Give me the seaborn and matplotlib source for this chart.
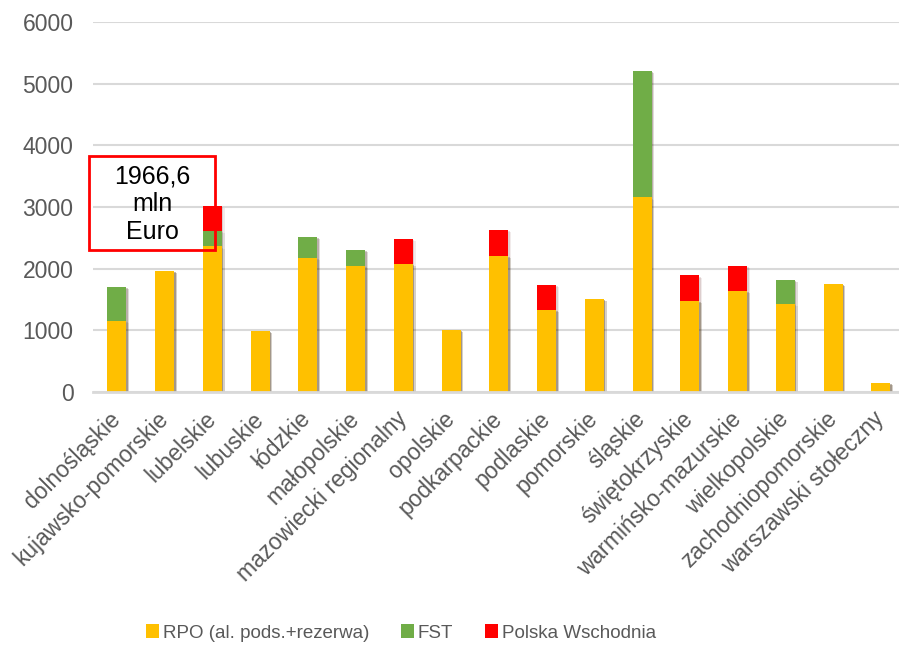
import matplotlib
matplotlib.use('Agg')
import matplotlib.pyplot as plt
import matplotlib.patheffects as pe
from matplotlib.patches import Rectangle, Patch
import pandas as pd
import seaborn as sns

regions = ['dolnośląskie', 'kujawsko-pomorskie', 'lubelskie', 'lubuskie',
           'łódzkie', 'małopolskie', 'mazowiecki regionalny', 'opolskie',
           'podkarpackie', 'podlaskie', 'pomorskie', 'śląskie',
           'świętokrzyskie', 'warmińsko-mazurskie', 'wielkopolskie',
           'zachodniopomorskie', 'warszawski stołeczny']
rpo = [1150, 1960, 2360, 985, 2175, 2050, 2075, 1010, 2205, 1325, 1508,
       3155, 1470, 1640, 1425, 1750, 150]
fst = [555, 0, 245, 0, 340, 255, 0, 0, 0, 0, 0, 2055, 0, 0, 385, 0, 0]
pw = [0, 0, 415, 0, 0, 0, 410, 0, 420, 410, 0, 0, 420, 410, 0, 0, 0]

series_names = ['RPO (al. pods.+rezerwa)', 'FST', 'Polska Wschodnia']
colors = ['#FFC000', '#70AD47', '#FF0000']
gray = '#595959'


def main():
    sns.set_style('white')
    plt.rcParams['font.family'] = ['Liberation Sans', 'DejaVu Sans']

    df = pd.DataFrame({'region': regions, 'rpo': rpo, 'fst': fst, 'pw': pw})
    df['rpo_fst'] = df['rpo'] + df['fst']
    df['total'] = df['rpo_fst'] + df['pw']

    fig = plt.figure(figsize=(8.99, 6.47), dpi=100)
    ax = fig.add_axes([93 / 899, 255 / 647, 806 / 899, 370 / 647])

    # soft shadow round the bars
    shadow = [pe.SimplePatchShadow(offset=(2, -1.5), alpha=0.08),
              pe.SimplePatchShadow(offset=(1, -0.8), alpha=0.12),
              pe.Normal()]
    # layered cumulative bars give the stacked look
    for col, color in zip(['total', 'rpo_fst', 'rpo'], colors[::-1]):
        sns.barplot(data=df, x='region', y=col, color=color, width=0.4,
                    saturation=1, ax=ax)
    for bar in ax.patches:
        bar.set_path_effects(shadow)
        bar.set_linewidth(0)

    ax.set_xlim(-0.5, 16.38)
    ax.set_ylim(0, 6000)
    ax.set_yticks(range(0, 6001, 1000))
    ax.yaxis.grid(True, color='#d9d9d9', linewidth=1.5)
    ax.set_axisbelow(True)
    for side in ['top', 'right', 'left']:
        ax.spines[side].set_visible(False)
    ax.spines['bottom'].set_color('#d9d9d9')
    ax.spines['bottom'].set_linewidth(2)
    ax.set_xlabel('')
    ax.set_ylabel('')
    ax.tick_params(axis='both', length=0, labelsize=16.5, colors=gray)
    ax.tick_params(axis='y', pad=14)
    ax.set_xticks(range(len(regions)))
    ax.set_xticklabels(regions, rotation=45, ha='right', va='center',
                       rotation_mode='anchor')
    ax.tick_params(axis='x', pad=17)

    fig.patches.append(Rectangle((89 / 899, 1 - 250 / 647), 126 / 899,
                                 94 / 647, transform=fig.transFigure,
                                 fill=False, edgecolor='#FF0000',
                                 linewidth=2, zorder=5))
    fig.text(152 / 899, 1 - 204 / 647, '1966,6\nmln\nEuro', ha='center',
             va='center', fontsize=18, color='black', linespacing=1.2)

    handles = [Patch(facecolor=c, edgecolor='none') for c in colors]
    fig.legend(handles, series_names, loc='center', ncol=3,
               bbox_to_anchor=(401 / 899, 1 - 633 / 647), frameon=False,
               fontsize=13.5, labelcolor=gray, handlelength=0.7,
               handleheight=0.7, handletextpad=0.2, columnspacing=1.7)

    fig.savefig('out.png', dpi=100)


if __name__ == '__main__':
    main()
